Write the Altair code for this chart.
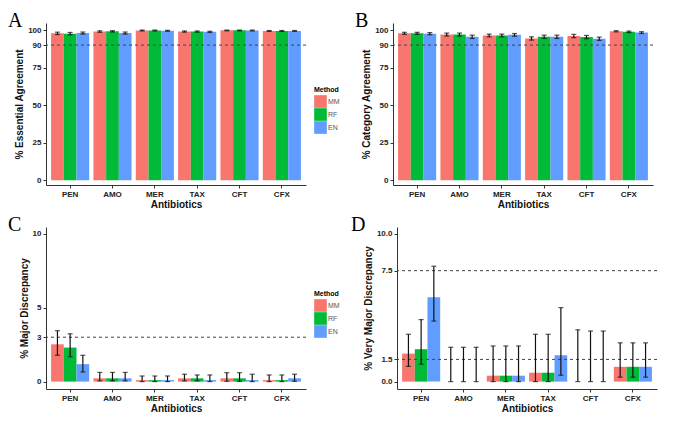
import altair as alt
import pandas as pd

antibiotics = ["PEN", "AMO", "MER", "TAX", "CFT", "CFX"]
methods = ["MM", "RF", "EN"]
colors = ["#F8766D", "#00BA38", "#619CFF"]

# Panel A: % Essential Agreement (per antibiotic: MM, RF, EN)
a_val = [[97.8, 97.6, 98.0], [99.0, 99.2, 98.0], [99.7, 99.7, 99.5],
         [99.0, 99.0, 98.8], [99.8, 99.8, 99.7], [99.4, 99.4, 99.4]]
a_lo = [[97.0, 96.8, 97.3], [98.5, 98.7, 97.3], [99.4, 99.4, 99.2],
        [98.6, 98.6, 98.4], [99.5, 99.5, 99.4], [99.1, 99.1, 99.1]]
a_hi = [[98.6, 98.4, 98.7], [99.5, 99.6, 98.7], [100.0, 100.0, 99.8],
        [99.4, 99.4, 99.2], [100.0, 100.0, 100.0], [99.7, 99.7, 99.7]]

# Panel B: % Category Agreement
b_val = [[97.8, 97.8, 97.6], [97.0, 97.0, 95.5], [96.4, 96.4, 96.8],
         [94.4, 95.5, 95.5], [96.0, 95.3, 94.2], [99.2, 98.8, 98.3]]
b_lo = [[97.1, 97.1, 96.9], [96.0, 96.0, 94.4], [95.5, 95.5, 95.9],
        [93.3, 94.4, 94.4], [94.9, 94.2, 93.1], [98.8, 98.3, 97.7]]
b_hi = [[98.5, 98.5, 98.3], [98.0, 98.0, 96.6], [97.3, 97.3, 97.7],
        [95.5, 96.6, 96.6], [97.1, 96.4, 95.3], [99.6, 99.3, 98.9]]

# Panel C: % Major Discrepancy
c_val = [[2.52, 2.30, 1.18], [0.22, 0.22, 0.22], [0.10, 0.10, 0.10],
         [0.22, 0.22, 0.10], [0.22, 0.22, 0.10], [0.10, 0.10, 0.22]]
c_lo = [[1.78, 1.68, 0.65], [0.05, 0.05, 0.05], [0.0, 0.0, 0.0],
        [0.05, 0.05, 0.0], [0.02, 0.02, 0.0], [0.0, 0.0, 0.02]]
c_hi = [[3.44, 3.23, 1.78], [0.62, 0.62, 0.62], [0.38, 0.38, 0.38],
        [0.50, 0.45, 0.45], [0.60, 0.60, 0.50], [0.45, 0.45, 0.50]]

# Panel D: % Very Major Discrepancy
d_val = [[1.89, 2.19, 5.70], [0.0, 0.0, 0.0], [0.40, 0.40, 0.40],
         [0.60, 0.60, 1.78], [0.0, 0.0, 0.0], [1.00, 1.00, 1.00]]
d_lo = [[1.03, 1.18, 4.09], [0.0, 0.0, 0.0], [0.0, 0.0, 0.0],
        [0.0, 0.0, 0.43], [0.0, 0.0, 0.0], [0.30, 0.30, 0.30]]
d_hi = [[3.20, 4.19, 7.80], [2.32, 2.32, 2.32], [2.41, 2.41, 2.41],
        [3.20, 3.20, 5.00], [3.50, 3.42, 3.42], [2.62, 2.62, 2.62]]

W, H = 260, 162


def frame(val, lo, hi):
    rows = []
    for i, ab in enumerate(antibiotics):
        for j, m in enumerate(methods):
            rows.append({"Antibiotic": ab, "Method": m, "value": val[i][j],
                         "lo": lo[i][j], "hi": hi[i][j]})
    return pd.DataFrame(rows)


def panel(letter, val, lo, hi, ytitle, domain, ticks, fmt, refs, lx=-38):
    df = frame(val, lo, hi)
    base = alt.Chart(df)
    x = alt.X("Antibiotic:N", sort=antibiotics,
              scale=alt.Scale(paddingInner=0.1, paddingOuter=0.12),
              axis=alt.Axis(title="Antibiotics", labelAngle=0, titlePadding=1))
    xo = alt.XOffset("Method:N", sort=methods,
                     scale=alt.Scale(paddingInner=0, paddingOuter=0))
    ysc = alt.Scale(domain=domain, nice=False, zero=False)
    yax = alt.Axis(values=ticks, format=fmt, labelOverlap=False)
    color = alt.Color("Method:N", sort=methods,
                      scale=alt.Scale(domain=methods, range=colors),
                      legend=alt.Legend(title="Method", orient="none",
                                        legendX=W + 8, legendY=H / 2 - 18,
                                        symbolType="square", symbolSize=160,
                                        symbolStrokeWidth=0, labelFontSize=7,
                                        titleFontSize=7, titleFontWeight="bold",
                                        labelFont="Liberation Sans",
                                        titleFont="Liberation Sans",
                                        rowPadding=0, labelColor="#555",
                                        titlePadding=2, labelOffset=1,
                                        padding=0))
    bars = base.mark_bar().encode(
        x=x, xOffset=xo,
        y=alt.Y("value:Q", scale=ysc, axis=yax, title=ytitle),
        color=color)
    ref = alt.Chart(pd.DataFrame({"r": refs})).mark_rule(
        strokeDash=[3, 3], color="#444", strokeWidth=1).encode(
        y=alt.Y("r:Q", title=ytitle, axis=yax))
    err = base.mark_rule(color="#111", strokeWidth=1.2).encode(
        x=x, xOffset=xo, y=alt.Y("lo:Q", title=ytitle, axis=yax), y2="hi:Q")
    cap_hi = base.mark_tick(color="#111", size=5, thickness=1.2,
                            orient="horizontal").encode(
        x=x, xOffset=xo, y=alt.Y("hi:Q", title=ytitle, axis=yax))
    cap_lo = base.mark_tick(color="#111", size=5, thickness=1.2,
                            orient="horizontal").encode(
        x=x, xOffset=xo, y=alt.Y("lo:Q", title=ytitle, axis=yax))
    lab = alt.Chart(pd.DataFrame({"t": [letter]})).mark_text(
        font="Liberation Serif", fontSize=20, align="left",
        baseline="alphabetic", color="#000").encode(
        text="t:N", x=alt.value(lx), y=alt.value(4))
    return alt.layer(bars, ref, err, cap_hi, cap_lo, lab).properties(
        width=W, height=H)


pA = panel("A", a_val, a_lo, a_hi, "% Essential Agreement", [-3.2, 104.7],
           [0, 25, 50, 75, 90, 100], "d", [90])
pB = panel("B", b_val, b_lo, b_hi, "% Category Agreement", [-3.2, 104.7],
           [0, 25, 50, 75, 90, 100], "d", [90])
pC = panel("C", c_val, c_lo, c_hi, "% Major Discrepancy", [-0.5, 10.45],
           [0, 3, 5, 10], "d", [3])
pD = panel("D", d_val, d_lo, d_hi, "% Very Major Discrepancy", [-0.5, 10.45],
           [0, 1.5, 7.5, 10], ".1f", [7.5, 1.5], lx=-46)

chart = alt.vconcat(
    alt.hconcat(pA, pB, spacing=48),
    alt.hconcat(pC, pD, spacing=44),
    spacing=6,
).resolve_legend(color="independent").properties(
    padding={"top": 3, "left": 0, "right": 0, "bottom": 0}, background="white"
).configure_axis(
    labelFont="Liberation Sans", labelFontWeight="bold", labelFontSize=8,
    titleFont="Liberation Sans", titleFontWeight="bold", titleFontSize=10,
    domainColor="#333", tickColor="#333", grid=False, tickSize=3,
    labelPadding=2, titlePadding=3, labelColor="#222", titleColor="#111",
    labelOverlap=False,
).configure_view(stroke=None)

chart.save("out.html", embed_options={"renderer": "svg", "actions": False})
